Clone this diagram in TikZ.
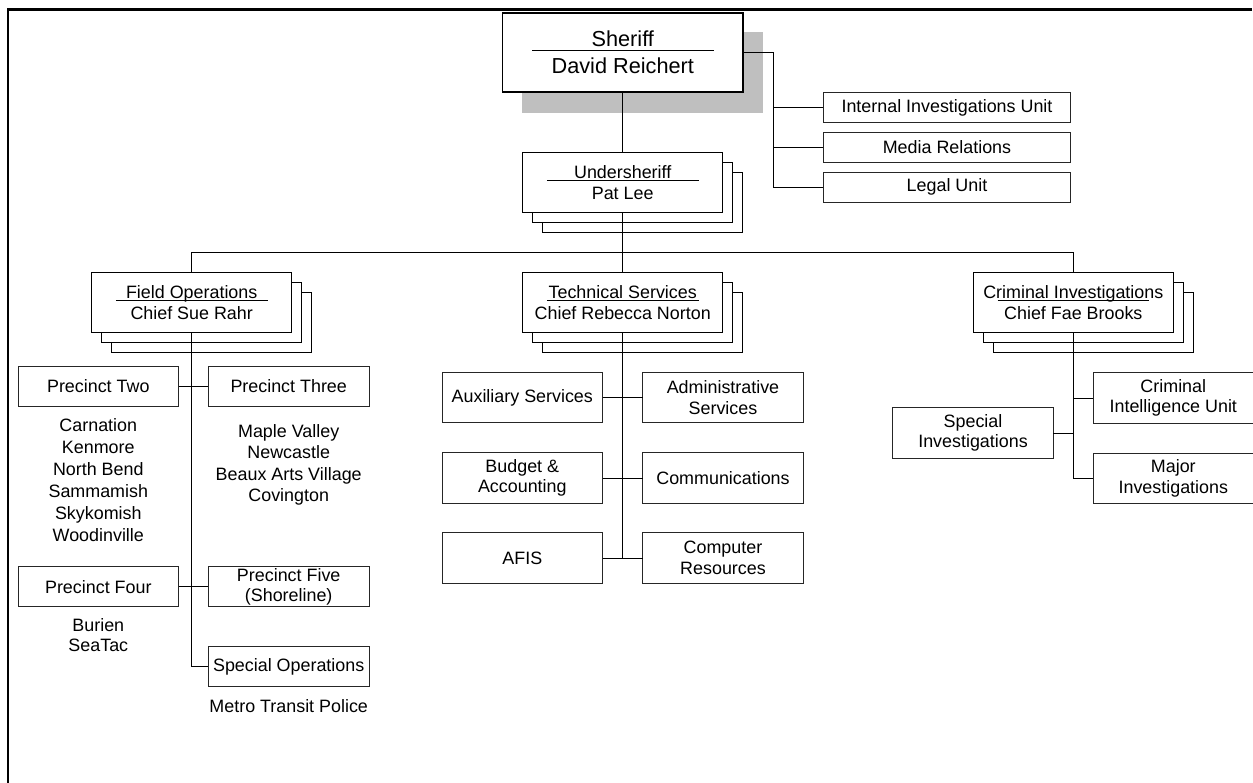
\documentclass[tikz,border=0pt]{standalone}
\usepackage{fontspec}
\setmainfont{Liberation Sans}
\usetikzlibrary{backgrounds,calc}

\newcommand\fs[2]{\fontsize{#1}{#2}\selectfont}
\newcommand\lines[1]{\begin{tabular}[t]{@{}c@{}}#1\end{tabular}}

\begin{document}
\begin{tikzpicture}[x=1pt,y=-1pt,
  every node/.style={inner sep=0pt, outer sep=0pt, font=\fs{17.9}{20.4}},
  headbox/.style={draw, line width=1.6pt, fill=white, minimum width=240.6pt,
    minimum height=79pt, align=center, font=\fs{21.7}{27.3}},
  chiefbox/.style={draw, line width=1.3pt, fill=white, minimum width=200pt,
    minimum height=59.6pt, align=center, font=\fs{17.9}{21}},
  backbox/.style={draw, line width=1.3pt, fill=white},
  shadowbox/.style={fill=black!25},
  unitbox/.style={draw=black!85, line width=0.9pt, fill=white,
    minimum width=160.5pt, minimum height=50.4pt, align=center},
  pbox/.style={unitbox, minimum height=40pt},
  sidebox/.style={unitbox, minimum width=247.4pt, minimum height=30pt},
  place/.style={anchor=base},
  link/.style={line width=0.9pt},
  rulebar/.style={line width=1pt},
  frameline/.style={line width=2.4pt},
]
\useasboundingbox (0,0) rectangle (1253,782);
\clip (0,0) rectangle (1253,782);

% outer frame
\draw[frameline] (1252,9.5) -- (7.8,9.5) -- (7.8,800);

% command staff
\node[headbox] (sheriff) at (622.8,52.2) {Sheriff\\David Reichert};
\node[sidebox] (iiu) at (947,107.5) {Internal Investigations Unit};
\node[sidebox] (media) at (947,147.5) {Media Relations};
\node[sidebox] (legal) at (947,187.3) {Legal Unit};

\node[chiefbox] (us) at (622.7,182.5) {Undersheriff\\Pat Lee};

% bureaus
\node[chiefbox] (fo) at (191.7,302.5) {Field Operations\\Chief Sue Rahr};
\node[chiefbox] (ts) at (622.7,302.5) {Technical Services\\Chief Rebecca Norton};
\node[chiefbox] (ci) at (1073.3,302.5) {Criminal Investigations\\Chief Fae Brooks};

% field operations
\node[pbox] (p2) at (98.3,386) {Precinct Two};
\node[pbox] (p3) at (288.7,386) {Precinct Three};
\node[pbox] (p4) at (98.3,586.7) {Precinct Four};
\node[pbox] (p5) at (288.7,586.7) {Precinct Five\\(Shoreline)};
\node[pbox] (so) at (288.7,666.7) {Special Operations};

\node[place, font=\fs{17.9}{21.86}] (p2towns) at (98.3,431.7)
  {\lines{Carnation\\Kenmore\\North Bend\\Sammamish\\Skykomish\\Woodinville}};
\node[place, font=\fs{17.9}{21.47}] (p3towns) at (288.7,437.3)
  {\lines{Maple Valley\\Newcastle\\Beaux Arts Village\\Covington}};
\node[place, font=\fs{17.9}{20.7}] (p4towns) at (98.3,631)
  {\lines{Burien\\SeaTac}};
\node[place] (sotext) at (288.7,712.7) {Metro Transit Police};

% technical services
\node[unitbox] (aux) at (522.3,397.7) {Auxiliary Services};
\node[unitbox] (adm) at (723,397.7) {Administrative\\Services};
\node[unitbox] (bud) at (522.3,478) {Budget \&\\Accounting};
\node[unitbox] (com) at (723,478) {Communications};
\node[unitbox] (afis) at (522.3,558) {AFIS};
\node[unitbox] (cmp) at (723,558) {Computer\\Resources};

% criminal investigations
\node[unitbox] (ciu) at (1173.3,398) {Criminal\\Intelligence Unit};
\node[unitbox] (maj) at (1173.3,478.3) {Major\\Investigations};
\node[unitbox] (si) at (973,433) {Special\\Investigations};

% shadow and stacked sheets behind the title boxes
\begin{scope}[on background layer]
  \fill[shadowbox] ([shift={(19.5,19.5)}]sheriff.north west) rectangle ([shift={(20,21)}]sheriff.south east);
  \foreach \b in {us,fo,ts,ci}{
    \foreach \d in {20,10}
      \draw[backbox] ([shift={(\d,\d)}]\b.north west) rectangle ([shift={(\d,\d)}]\b.south east);
  }
\end{scope}

% title rules
\draw[rulebar] ([shift={(-90.8,-2.2)}]sheriff.center) -- ([shift={(90.8,-2.2)}]sheriff.center);
\foreach \b in {us,fo,ts,ci}
  \draw[rulebar] ([shift={(-75.8,-1.8)}]\b.center) -- ([shift={(75.8,-1.8)}]\b.center);

% connectors: sheriff and staff
\coordinate (staff) at (773,0);
\draw[link] (us.north |- sheriff.south) -- (us.north);
\draw[link] (sheriff.east) -| (staff |- legal.west) -- (legal.west);
\draw[link] (staff |- iiu.west) -- (iiu.west);
\draw[link] (staff |- media.west) -- (media.west);

% connectors: bureaus
\coordinate (bus) at (622.7,252.7);
\draw[link] (us.south) -- (ts.north);
\draw[link] (fo.north) -- (fo.north |- bus) -- (ci.north |- bus) -- (ci.north);

% connectors: field operations
\draw[link] (fo.south) -- (fo.south |- so.west) -- (so.west);
\draw[link] (p2.east) -- (p3.west);
\draw[link] (p4.east) -- (p5.west);

% connectors: technical services
\draw[link] (ts.south) -- (ts.south |- afis.east);
\draw[link] (aux.east) -- (adm.west);
\draw[link] (bud.east) -- (com.west);
\draw[link] (afis.east) -- (cmp.west);

% connectors: criminal investigations
\draw[link] (ci.south) -- (ci.south |- maj.west) -- (maj.west);
\draw[link] (ci.south |- ciu.west) -- (ciu.west);
\draw[link] (si.east) -- (si.east -| ci.south);
\end{tikzpicture}
\end{document}
